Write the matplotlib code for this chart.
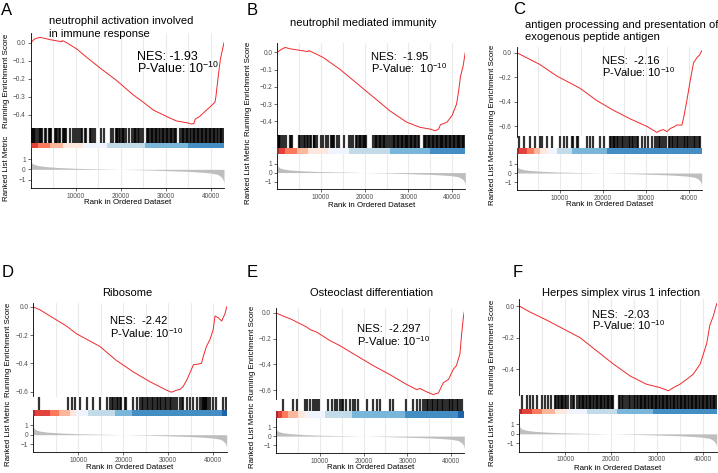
import matplotlib.pyplot as plt
import numpy as np
from matplotlib.ticker import MultipleLocator

plt.rcParams['font.family'] = ['Liberation Sans', 'DejaVu Sans']
plt.rcParams['mathtext.fontset'] = 'custom'
plt.rcParams['mathtext.rm'] = 'Liberation Sans'
plt.rcParams['mathtext.default'] = 'regular'

N_GENES = 43000

# ranked list metric (shared ranked list), rank in thousands
metric_rank = [0, 0.2, 0.6, 1.5, 3, 6, 10, 15, 20, 25, 30, 35, 38, 40, 41.5, 42.3, 42.8, 43]
metric_value = [0.85, 0.65, 0.5, 0.38, 0.28, 0.18, 0.1, 0.05, 0.0, -0.05, -0.12, -0.2,
                -0.28, -0.36, -0.48, -0.7, -1.0, -1.35]

strip_colors = ["#A50F15", "#DE2D26", "#FB6A4A", "#FCAE91", "#FEE5D9",
                "#EFF3FF", "#BDD7E7", "#6BAED6", "#3182BD", "#08519C"]

titles = [["neutrophil activation involved", "in immune response"],
          ["neutrophil mediated immunity"],
          ["antigen processing and presentation of", "exogenous peptide antigen"],
          ["Ribosome"],
          ["Osteoclast differentiation"],
          ["Herpes simplex virus 1 infection"]]
letters = ["A", "B", "C", "D", "E", "F"]
nes_labels = ["NES: -1.93", "NES:  -1.95", "NES:  -2.16", "NES:  -2.42", "NES:  -2.297", "NES:  -2.03"]
pval_labels = ["P-Value: 10$^{-10}$", "P-Value:  10$^{-10}$", "P-Value: 10$^{-10}$",
               "P-Value: 10$^{-10}$", "P-Value: 10$^{-10}$", "P-Value: 10$^{-10}$"]
nes_sizes = [9, 8, 8, 8, 8, 8]

# running enrichment score, rank in thousands
a_rank = [0, 0.8, 2.0, 3.0, 4.3, 5.5, 6.9, 7.0, 8.0, 10.2, 12.4, 15.4, 19.1, 22.8, 25.0, 27.3,
          30.2, 32.4, 34.7, 35.8, 36.3, 36.6, 37.6, 39.1, 40.2, 41.0, 41.2, 41.7, 42.2, 43.0]
a_es = [0, 0.02, 0.03, 0.025, 0.017, 0.012, 0.005, 0.012, 0.0, -0.034, -0.08, -0.14, -0.21,
        -0.29, -0.33, -0.375, -0.41, -0.435, -0.445, -0.452, -0.45, -0.425, -0.41, -0.375,
        -0.35, -0.33, -0.30, -0.19, -0.09, 0.0]
b_rank = [0, 0.8, 1.8, 3.0, 4.5, 6.0, 7.0, 7.2, 8.5, 10.5, 14.4, 18.2, 22.0, 25.8, 29.6, 32.7,
          35.0, 36.1, 36.9, 37.3, 38.8, 40.0, 41.0, 41.5, 41.9, 42.5, 43.0]
b_es = [0, 0.015, 0.028, 0.02, 0.014, 0.008, 0.004, 0.01, -0.005, -0.03, -0.1, -0.18, -0.26,
        -0.34, -0.405, -0.435, -0.445, -0.455, -0.445, -0.42, -0.405, -0.365, -0.30, -0.22,
        -0.14, -0.08, 0.0]
c_rank = [0, 5.4, 9.3, 14.7, 18.6, 22.5, 26.4, 30.2, 32.6, 33.3, 34.1, 34.9, 35.8, 36.4, 37.2,
          38.4, 38.8, 39.5, 40.3, 41.1, 41.9, 42.5, 43.0]
c_es = [0, -0.097, -0.19, -0.29, -0.39, -0.47, -0.54, -0.6, -0.65, -0.635, -0.627, -0.643,
        -0.616, -0.608, -0.59, -0.59, -0.53, -0.40, -0.235, -0.083, -0.04, -0.02, 0.015]
d_rank = [0, 1.5, 3.7, 7.4, 9.6, 14.8, 18.5, 22.2, 25.9, 29.6, 30.7, 31.9, 32.6, 33.3, 34.1,
          34.8, 35.6, 36.7, 37.4, 37.8, 38.5, 39.3, 40.0, 40.4, 41.1, 41.9, 42.2, 42.6, 43.0]
d_es = [0, -0.02, -0.064, -0.136, -0.19, -0.28, -0.38, -0.46, -0.53, -0.59, -0.605, -0.59,
        -0.585, -0.565, -0.52, -0.47, -0.41, -0.405, -0.4, -0.35, -0.28, -0.23, -0.16, -0.064,
        -0.076, -0.1, -0.076, -0.05, 0.0]
e_rank = [0, 1.7, 3.2, 7.0, 7.8, 9.3, 12.3, 14.6, 18.4, 22.2, 26.0, 29.8, 32.1, 32.9, 34.4,
          35.9, 37.1, 38.2, 39.4, 40.5, 41.2, 42.0, 42.4, 42.8, 43.0]
e_es = [0, -0.026, -0.045, -0.11, -0.13, -0.15, -0.215, -0.255, -0.333, -0.41, -0.48, -0.556,
        -0.596, -0.588, -0.614, -0.635, -0.622, -0.543, -0.517, -0.438, -0.41, -0.32, -0.163,
        -0.03, 0.008]
f_rank = [0, 2.3, 6.0, 9.6, 13.2, 16.8, 20.5, 24.1, 27.7, 30.6, 32.5, 33.6, 35.0, 36.5, 37.9,
          39.4, 40.8, 41.5, 42.3, 43.0]
f_es = [0, -0.038, -0.09, -0.145, -0.2, -0.283, -0.368, -0.443, -0.496, -0.517, -0.538,
        -0.517, -0.496, -0.464, -0.432, -0.368, -0.24, -0.123, -0.06, 0.015]

# gene set hit positions, rank in thousands
a_hits = [0.1, 0.3, 0.5, 0.7, 0.9, 1.4, 1.9, 2.1, 2.3, 2.6, 3.1, 3.5, 4.0, 4.2, 4.4, 4.6,
          5.3, 5.6, 5.9, 6.2, 6.6, 7.2, 7.4, 7.6, 7.9, 8.8, 9.3, 9.8, 10.3, 10.8, 11.3, 11.5,
          12.0, 12.4, 13.2, 13.5, 13.8, 14.2, 15.6, 16.2, 17.8, 18.3, 18.9, 19.1, 19.3, 19.6,
          19.9, 20.2, 20.5, 20.8, 21.1, 21.8, 22.6, 22.9, 23.2, 23.5, 23.9, 24.2, 24.6, 24.9,
          25.9, 26.1, 26.4, 26.7, 27.0, 27.3, 27.6, 27.9, 28.2, 28.5, 28.8, 29.1, 29.4, 29.7,
          30.0, 30.3, 30.6, 30.9, 31.2, 31.5, 31.8, 32.1, 32.4, 33.3, 33.6, 33.9, 34.2, 34.5,
          34.8, 35.1, 35.4, 35.7, 36.0, 36.3, 36.6, 36.9, 37.2, 37.5, 37.8, 38.1, 38.4, 38.7,
          39.0, 39.3, 39.6, 39.9, 40.2, 40.5, 40.8, 41.1, 41.4, 41.7, 42.0, 42.3, 42.6, 42.9]
b_hits = [0.1, 0.3, 0.5, 0.7, 1.0, 1.5, 1.9, 2.9, 3.1, 3.3, 4.9, 5.2, 5.6, 6.0, 6.3, 6.7,
          7.0, 7.4, 7.8, 8.3, 8.5, 8.7, 9.0, 9.9, 10.5, 11.1, 11.6, 12.2, 12.4, 12.7, 13.0,
          13.6, 14.2, 15.3, 16.4, 16.9, 17.3, 18.0, 18.3, 18.6, 18.9, 19.2, 19.5, 19.8, 20.1,
          20.4, 22.0, 22.3, 22.6, 22.9, 23.2, 23.5, 23.8, 24.1, 24.4, 24.7, 25.0, 25.6, 26.1,
          26.4, 26.7, 27.0, 27.3, 27.6, 27.9, 28.2, 28.5, 28.8, 29.1, 29.4, 29.7, 30.0, 30.3,
          30.6, 30.9, 31.2, 31.5, 31.8, 32.1, 32.4, 33.5, 33.8, 34.1, 34.4, 34.7, 35.0, 35.3,
          35.6, 35.9, 36.2, 36.5, 36.8, 37.1, 37.4, 37.7, 38.0, 38.3, 38.6, 38.9, 39.2, 39.5,
          39.8, 40.1, 40.4, 40.7, 41.0, 41.3, 41.6, 41.9, 42.2, 42.5, 42.8]
c_hits = [0.5, 1.6, 3.1, 4.3, 5.3, 5.8, 7.0, 8.1, 10.1, 10.9, 11.8, 12.8, 13.2, 14.0, 14.3,
          16.3, 17.1, 17.8, 19.4, 20.4, 21.7, 22.0, 22.3, 22.6, 22.9, 23.3, 23.6, 24.0, 24.4,
          24.8, 25.2, 25.6, 26.0, 26.4, 26.7, 27.1, 27.5, 27.9, 28.3, 29.1, 29.8, 30.5, 31.4,
          32.2, 32.6, 33.0, 33.4, 33.8, 34.2, 34.6, 35.3, 35.7, 36.0, 36.4, 36.8, 37.2, 37.6,
          38.0, 38.4, 38.8, 39.1, 39.5, 39.9, 40.3, 40.7, 41.1, 41.5, 41.9, 42.3, 42.7]
d_hits = [1.3, 7.8, 8.5, 9.3, 10.4, 11.9, 13.3, 14.8, 16.3, 17.0, 17.4, 17.8, 18.1, 18.5,
          18.9, 19.3, 19.6, 20.4, 20.7, 22.2, 23.0, 23.7, 24.1, 24.4, 24.8, 25.2, 25.6, 25.9,
          26.3, 26.7, 27.0, 27.4, 27.8, 28.1, 28.5, 28.9, 29.3, 29.6, 30.0, 30.4, 30.7, 31.1,
          31.5, 31.9, 32.6, 33.0, 33.3, 34.1, 34.8, 35.6, 36.3, 37.0, 37.4, 37.8, 37.9, 38.1,
          38.4, 38.5, 38.9, 39.3, 40.0, 40.6, 42.2, 42.8]
e_hits = [1.7, 3.8, 4.7, 6.6, 7.0, 7.8, 8.4, 8.9, 9.4, 9.9, 11.9, 12.9, 13.5, 13.9, 14.6,
          15.0, 15.4, 16.0, 16.9, 17.5, 18.0, 18.8, 20.7, 22.2, 23.0, 23.7, 26.0, 26.8, 29.8,
          31.3, 32.1, 32.9, 33.6, 34.0, 34.4, 34.8, 35.2, 35.6, 35.9, 36.3, 36.7, 37.1, 37.4,
          37.8, 38.2, 38.6, 39.0, 39.4, 39.7, 40.1, 40.5, 40.9, 41.3, 41.6, 42.0, 42.4]
f_hits = [0.5, 1.6, 2.3, 2.9, 3.8, 4.9, 5.6, 6.3, 7.0, 7.8, 8.1, 8.4, 8.7, 9.0, 9.3, 9.6,
          9.9, 10.2, 10.7, 11.2, 11.6, 12.0, 12.5, 12.9, 13.3, 13.6, 13.9, 14.2, 14.5, 14.8,
          15.1, 15.4, 15.7, 16.0, 16.3, 16.6, 16.9, 17.2, 17.5, 17.8, 18.1, 18.4, 18.7, 19.0,
          19.3, 19.6, 19.9, 20.2, 20.5, 21.7, 22.0, 22.3, 22.6, 23.0, 23.4, 23.8, 24.2, 24.6,
          25.0, 25.3, 25.6, 25.9, 26.2, 26.5, 26.8, 27.1, 27.4, 27.7, 28.0, 28.3, 28.6, 28.9,
          29.2, 29.5, 29.8, 30.1, 30.4, 30.7, 31.0, 31.3, 31.6, 31.9, 32.2, 32.5, 32.8, 33.1,
          33.4, 33.7, 34.0, 34.3, 34.6, 34.9, 35.2, 35.5, 35.8, 36.1, 36.4, 36.7, 37.0, 37.3,
          37.6, 37.9, 38.2, 38.5, 38.8, 39.1, 39.4, 39.7, 40.0, 40.3, 40.6, 40.9, 41.2, 41.5,
          41.8, 42.1, 42.4, 42.7, 43.0]

# colour bin edges of the ranked-list strip, rank in thousands
a_strip = [0, 0.4, 1.7, 4.3, 7.2, 11.7, 17.0, 25.4, 35.1, 43.0, 43.0]
b_strip = [0, 0.4, 1.8, 4.4, 7.1, 11.7, 16.3, 25.8, 35.0, 43.0, 43.0]
c_strip = [0, 0.5, 2.3, 4.0, 5.3, 7.0, 9.3, 12.8, 20.9, 43.0, 43.0]
d_strip = [0, 0.3, 3.7, 5.8, 8.1, 9.5, 12.2, 18.1, 21.9, 41.9, 43.0]
e_strip = [0, 0.4, 1.3, 2.8, 5.1, 6.6, 11.2, 17.3, 29.5, 41.6, 43.0]
f_strip = [0, 0.5, 2.7, 4.9, 7.8, 10.3, 14.7, 21.2, 29.2, 43.0, 43.0]

es_ranks = [a_rank, b_rank, c_rank, d_rank, e_rank, f_rank]
es_scores = [a_es, b_es, c_es, d_es, e_es, f_es]
hits = [a_hits, b_hits, c_hits, d_hits, e_hits, f_hits]
strips = [a_strip, b_strip, c_strip, d_strip, e_strip, f_strip]
es_steps = [0.1, 0.1, 0.2, 0.2, 0.2, 0.2]

# layout in pixels: left, right, es_top, es_bottom, strip_top, strip_bottom, metric_bottom
boxes = [(30.7, 224.0, 33.0, 128.3, 142.7, 148.3, 188.3),
         (277.3, 465.3, 43.3, 135.0, 148.0, 154.0, 189.3),
         (516.7, 701.7, 46.7, 136.5, 148.3, 154.2, 190.0),
         (33.3, 226.7, 302.7, 396.5, 409.8, 415.5, 452.0),
         (276.0, 464.3, 307.7, 398.7, 411.0, 417.7, 452.7),
         (519.3, 716.7, 299.3, 395.2, 408.5, 414.3, 451.5)]
letter_pos = [(1, 10.8), (246.7, 10.8), (512.7, 10), (1.7, 272.7), (247, 272.8), (513, 272.7)]
# title: x, first line y, horizontal alignment
title_pos = [(49.3, 21.0, 'left'), (362.8, 23.3, 'center'), (525, 24.7, 'left'),
             (127, 292.7, 'center'), (371.5, 292.7, 'center'), (620.8, 292.7, 'center')]
nes_pos = [(136.7, 59.5, 73.3), (371, 59.5, 73), (601.7, 63.8, 77.3),
           (110, 324, 337.5), (357.3, 331.5, 345.8), (591.7, 317.5, 330)]
ylabel_x = [7, 248.3, 493, 8.3, 253, 493]
xlabel_y = [202.3, 205, 204, 467, 467.7, 468.3]

W, H = 718, 473
fig = plt.figure(figsize=(W / 100, H / 100), dpi=100)


def px_axes(l, t, r, b):
    return fig.add_axes([l / W, 1 - b / H, (r - l) / W, (b - t) / H])


def fx(x):
    return x / W


def fy(y):
    return 1 - y / H


tick_color = '#4D4D4D'
grid_color = '#EBEBEB'

for i in range(6):
    l, r, t, eb, st, sb, mb = boxes[i]
    xs = np.array(es_ranks[i]) * 1000

    # running enrichment score
    ax = px_axes(l, t, r, eb)
    ax.plot(xs, es_scores[i], color='#F0282A', lw=0.7)
    ax.set_xlim(0, N_GENES)
    ax.margins(y=0.05)
    ax.xaxis.set_major_locator(MultipleLocator(10000))
    ax.xaxis.set_minor_locator(MultipleLocator(5000))
    ax.grid(axis='x', which='both', color=grid_color, lw=0.8)
    ax.set_axisbelow(True)
    ax.yaxis.set_major_locator(MultipleLocator(es_steps[i]))
    ax.yaxis.set_major_formatter(lambda v, p: f"{v:.1f}".replace('-0.0', '0.0').replace('-', '\u2212'))
    ax.tick_params(axis='x', which='both', length=0, labelbottom=False)
    ax.tick_params(axis='y', length=2, width=0.5, color='#333333', pad=1.5,
                   labelsize=4.7, labelcolor=tick_color)
    for s in ['top', 'right', 'bottom']:
        ax.spines[s].set_visible(False)
    ax.spines['left'].set_linewidth(0.6)

    # hits and colour strip
    ax2 = px_axes(l, eb, r, sb)
    frac = (sb - st) / (sb - eb)
    ax2.vlines(np.array(hits[i]) * 1000, frac, 1, color='black', lw=1.6, alpha=0.8)
    edges = np.array(strips[i]) * 1000
    ax2.bar(edges[:-1], frac, width=np.diff(edges), bottom=0, align='edge',
            color=strip_colors, alpha=0.9, lw=0)
    ax2.set_xlim(0, N_GENES)
    ax2.set_ylim(0, 1)
    ax2.set_axis_off()

    # ranked list metric
    ax3 = px_axes(l, sb, r, mb)
    ax3.fill_between(np.array(metric_rank) * 1000, metric_value, 0, color='#BEBEBE', lw=0)
    ax3.set_xlim(0, N_GENES)
    ax3.set_ylim(-1.85, 2.05)
    ax3.set_yticks([-1, 0, 1])
    ax3.set_yticklabels(['\u22121', '0', '1'])
    ax3.set_xticks([10000, 20000, 30000, 40000])
    ax3.xaxis.set_minor_locator(MultipleLocator(5000))
    ax3.grid(axis='x', which='both', color=grid_color, lw=0.8)
    ax3.set_axisbelow(True)
    ax3.tick_params(axis='both', length=2, width=0.5, color='#333333', pad=1.5,
                    labelsize=4.7, labelcolor=tick_color)
    ax3.tick_params(axis='x', which='minor', length=0)
    for s in ['top', 'right']:
        ax3.spines[s].set_visible(False)
    for s in ['left', 'bottom']:
        ax3.spines[s].set_linewidth(0.6)

    # texts
    fig.text(fx(letter_pos[i][0]), fy(letter_pos[i][1]), letters[i], fontsize=12,
             ha='left', va='center')
    tx, ty, tha = title_pos[i]
    for k, line in enumerate(titles[i]):
        fig.text(fx(tx), fy(ty + k * 12.6), line, fontsize=8, ha=tha, va='center')
    nx, ny1, ny2 = nes_pos[i]
    fig.text(fx(nx), fy(ny1), nes_labels[i], fontsize=nes_sizes[i], ha='left', va='baseline')
    fig.text(fx(nx), fy(ny2), pval_labels[i], fontsize=nes_sizes[i], ha='left', va='baseline')
    fig.text(fx(ylabel_x[i]), fy((t + eb) / 2), "Running Enrichment Score", fontsize=5.7,
             rotation=90, ha='center', va='center')
    fig.text(fx(ylabel_x[i]), fy((sb + mb) / 2), "Ranked List Metric", fontsize=5.7,
             rotation=90, ha='center', va='center')
    fig.text(fx((l + r) / 2), fy(xlabel_y[i]), "Rank in Ordered Dataset", fontsize=5.7,
             ha='center', va='center')

fig.savefig("out.png", dpi=100)
